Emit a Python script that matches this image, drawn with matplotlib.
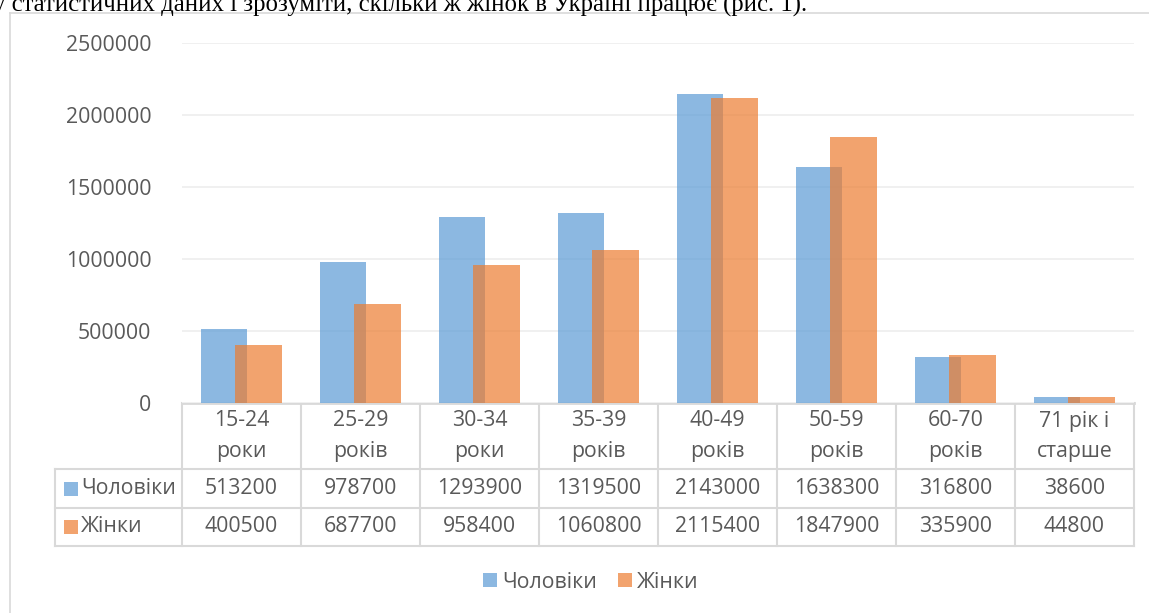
import matplotlib.pyplot as plt
from matplotlib.patches import Patch, Rectangle
from matplotlib.lines import Line2D

# data
categories = ["15-24\nроки", "25-29\nроків", "30-34\nроки", "35-39\nроків",
              "40-49\nроків", "50-59\nроків", "60-70\nроків", "71 рік і\nстарше"]
men = [513200, 978700, 1293900, 1319500, 2143000, 1638300, 316800, 38600]
women = [400500, 687700, 958400, 1060800, 2115400, 1847900, 335900, 44800]
series_names = ["Чоловіки", "Жінки"]
yticks = [0, 500000, 1000000, 1500000, 2000000, 2500000]
caption = "у статистичних даних і зрозуміти, скільки ж жінок в Україні працює (рис. 1)."

W, H = 1149, 613
BLUE = "#5B9BD5"
ORANGE = "#ED7D31"
ALPHA = 0.7
TXT = "#595959"
LINE = "#d9d9d9"
FONT = "Open Sans"
FS = 15.3

plt.rcParams["font.family"] = [FONT, "DejaVu Sans"]

fig = plt.figure(figsize=(W / 100, H / 100), dpi=100)

# plot area in pixel coordinates
left, right, top, bottom = 182, 1134, 43, 403
ax = fig.add_axes([left / W, 1 - bottom / H, (right - left) / W, (bottom - top) / H])

x = list(range(len(categories)))
bw = 0.392
ax.bar([i - 0.147 for i in x], men, width=bw, color=BLUE, alpha=ALPHA, zorder=2)
ax.bar([i + 0.141 for i in x], women, width=bw, color=ORANGE, alpha=ALPHA, zorder=3)

ax.set_xlim(-0.5, len(categories) - 0.5)
ax.set_ylim(0, 2500000)
ax.set_yticks(yticks)
ax.set_yticklabels([str(v) for v in yticks], fontsize=FS, color=TXT)
ax.tick_params(axis="y", length=0, pad=22)
ax.set_xticks([])
ax.yaxis.grid(True, color="#efefef", linewidth=1.3, zorder=0)
ax.set_axisbelow(True)
for s in ax.spines.values():
    s.set_visible(False)

# overlay in pixel coords for frame and data table
ov = fig.add_axes([0, 0, 1, 1], zorder=-1)
ov.set_xlim(0, W)
ov.set_ylim(H, 0)
ov.axis("off")

# outer chart frame
ov.add_line(Line2D([10, W], [13, 13], color=LINE, lw=1.2))
ov.add_line(Line2D([10, 10], [13, H], color=LINE, lw=1.2))

ncat = len(categories)
cw = (right - left) / ncat
col_x = [left + i * cw for i in range(ncat + 1)]
row_y = [bottom, 469, 508, 546]
key_left = 55

ov.add_line(Line2D([left, right], [bottom, bottom], color=LINE, lw=2))
for cx in col_x:
    ov.add_line(Line2D([cx, cx], [bottom, row_y[-1]], color=LINE, lw=1.5))
ov.add_line(Line2D([key_left, key_left], [row_y[1], row_y[-1]], color=LINE, lw=1.5))
for ry in row_y[1:]:
    ov.add_line(Line2D([key_left, right], [ry, ry], color=LINE, lw=1.5))

for i, lab in enumerate(categories):
    cx = left + (i + 0.5) * cw
    for k, part in enumerate(lab.split("\n")):
        ov.text(cx, 421 + k * 30, part, ha="center", va="center",
                fontsize=FS, color=TXT)

for r, (name, vals, col) in enumerate(zip(series_names, [men, women], [BLUE, ORANGE])):
    cy = (row_y[r + 1] + row_y[r + 2]) / 2
    ov.add_patch(Rectangle((64, cy - 7), 14, 14, color=col, alpha=ALPHA, lw=0))
    ov.text(81, cy, name, ha="left", va="center", fontsize=FS, color=TXT)
    for i, v in enumerate(vals):
        ov.text(left + (i + 0.5) * cw, cy, str(v), ha="center", va="center",
                fontsize=FS, color=TXT)

# caption text cut by the top edge (as in the reference)
fig.text(-7 / W, 1 - 12 / H, caption, ha="left", va="baseline",
         fontsize=17.8, family="Liberation Serif", color="black")

handles = [Patch(facecolor=BLUE, alpha=ALPHA), Patch(facecolor=ORANGE, alpha=ALPHA)]
fig.legend(handles, series_names, loc="center", bbox_to_anchor=(591 / W, 1 - 582 / H),
           ncol=2, frameon=False, fontsize=FS, labelcolor=TXT,
           handlelength=0.65, handleheight=0.65, handletextpad=0.25, columnspacing=1.0)

fig.savefig("out.png", dpi=100)
